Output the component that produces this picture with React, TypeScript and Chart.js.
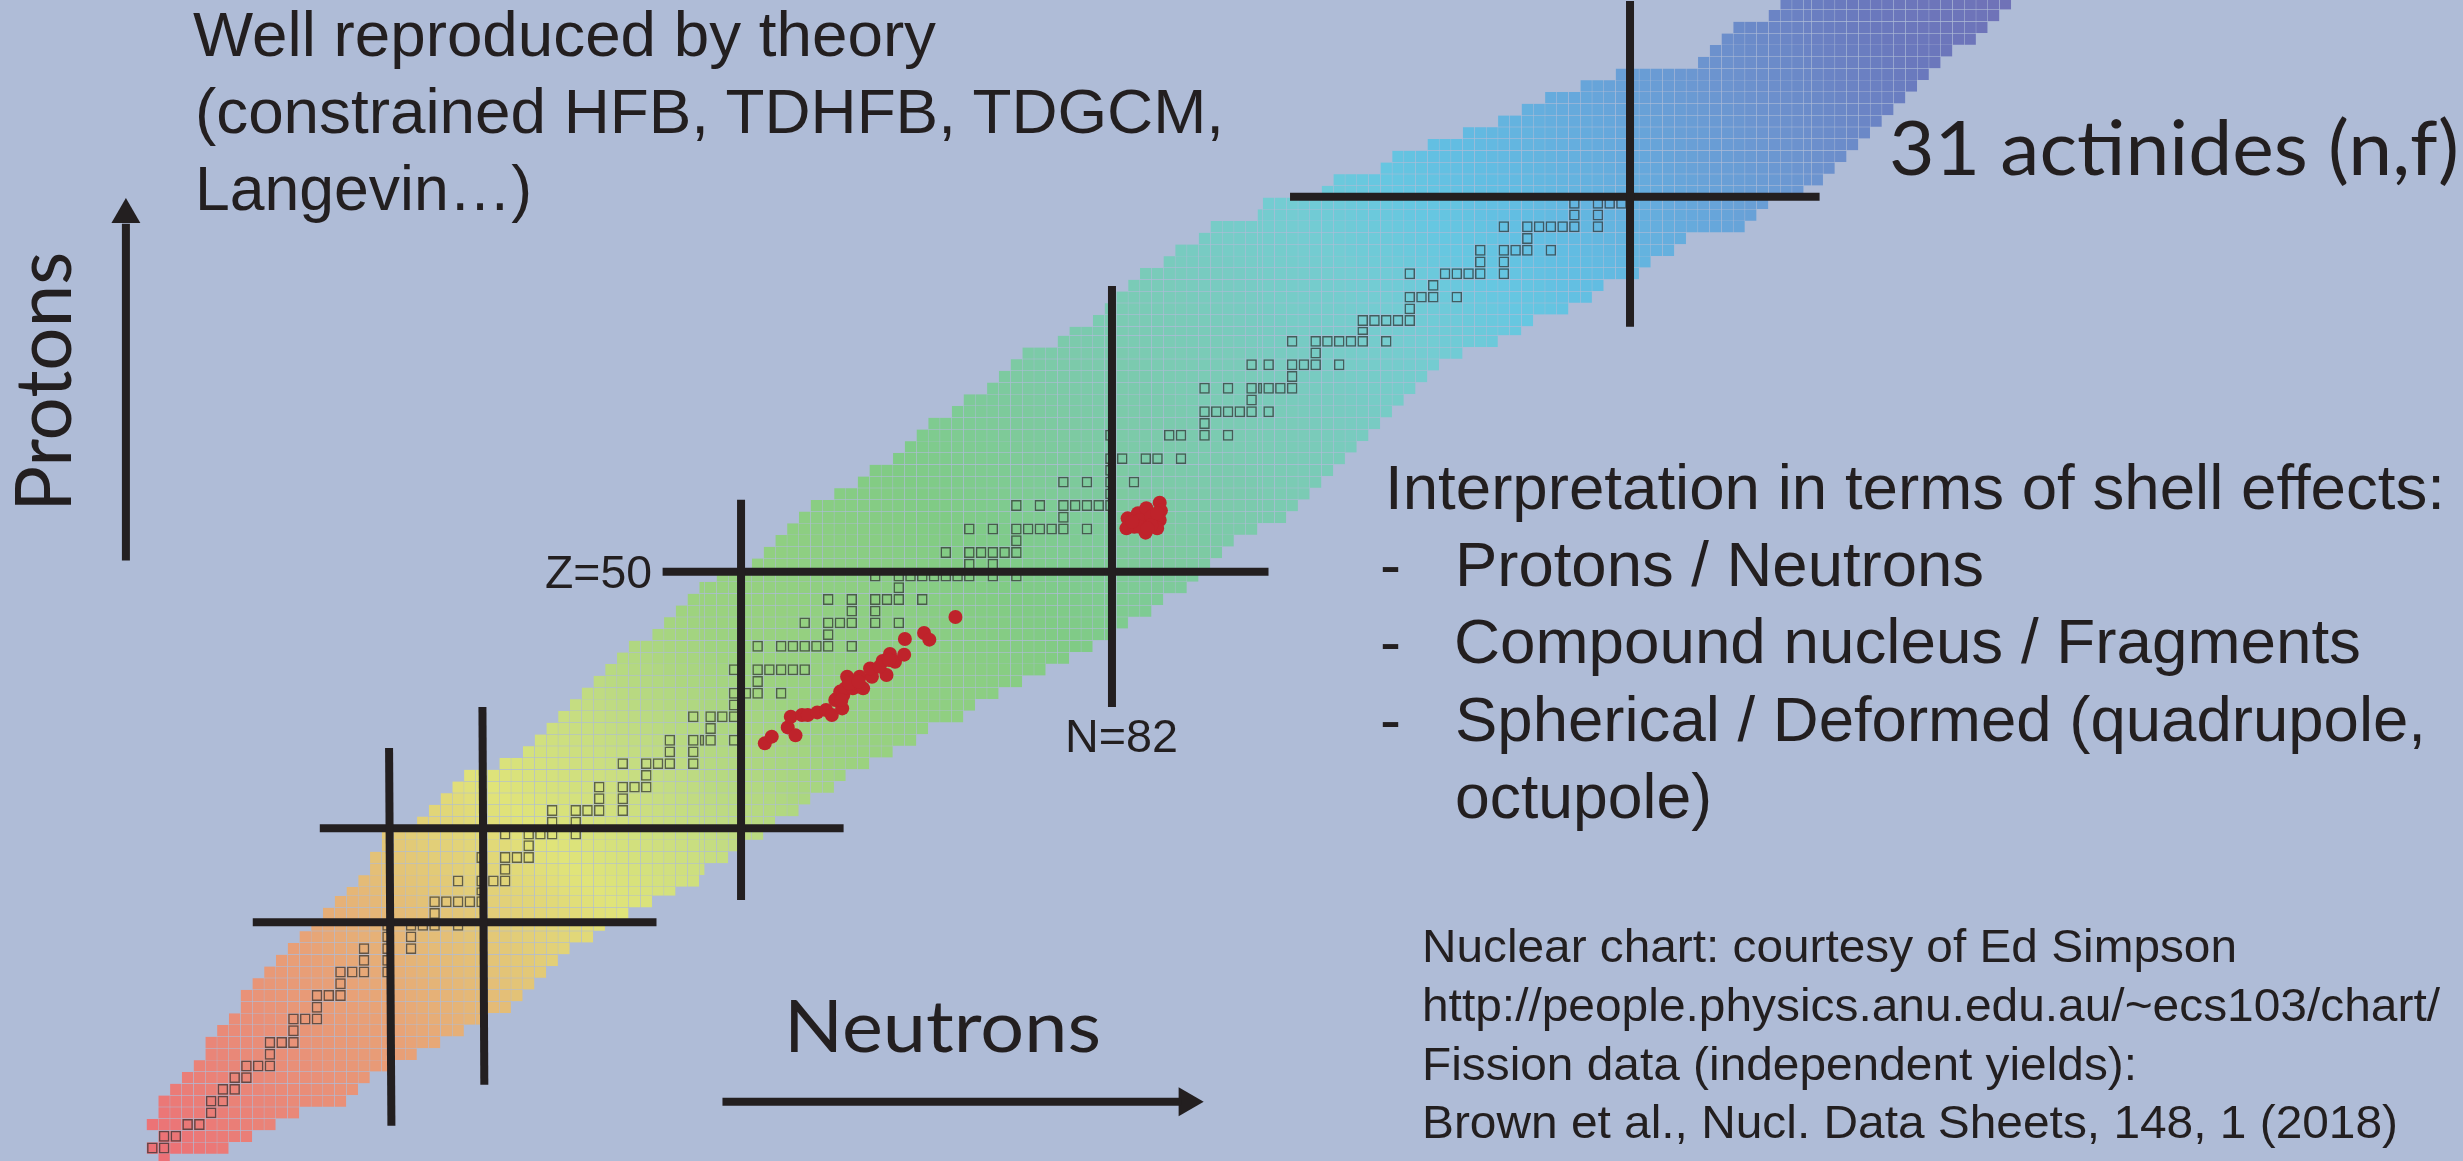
import React, { useEffect, useRef } from "react";
import { Chart, registerables } from "chart.js";

Chart.register(...registerables);

const WIDTH = 2463;
const HEIGHT = 1161;
const BG = "#afbcd7";
const INK = "#231f20";

// Band of the nuclear chart, row by row, first row is -1.
const firstRow = -1;
const leftCol = [1, 0, 1, 0, 1, 1, 2, 3, 4, 5, 5, 6, 7, 8, 8, 9, 10, 11, 12, 13, 14, 15, 16, 17, 18, 19, 19, 20, 20, 23, 24, 25, 26, 27, 30, 32, 33, 34, 35, 36, 37, 38, 39, 40, 41, 43, 44, 45, 46, 47, 49, 52, 53, 54, 55, 56, 57, 59, 61, 62, 64, 65, 66, 67, 69, 70, 72, 73, 74, 75, 78, 79, 81, 82, 83, 84, 85, 87, 88, 90, 91, 95, 96, 101, 102, 106, 107, 110, 113, 116, 118, 120, 123, 126, 133, 134, 135, 136, 139, 140];
const rightCol = [2, 7, 9, 11, 13, 17, 18, 19, 21, 23, 25, 27, 29, 31, 32, 33, 34, 35, 36, 38, 39, 41, 43, 45, 47, 48, 50, 51, 53, 54, 56, 57, 59, 60, 62, 64, 66, 67, 70, 71, 73, 75, 77, 79, 81, 83, 84, 86, 87, 89, 90, 91, 92, 93, 95, 98, 99, 100, 101, 102, 103, 104, 105, 106, 107, 108, 109, 110, 111, 113, 116, 118, 119, 122, 124, 125, 128, 129, 131, 132, 137, 138, 139, 142, 144, 145, 146, 147, 148, 149, 150, 151, 152, 153, 154, 155, 157, 158, 159, 160];

// The picture has narrow columns and rows where its tiles were joined.
const narrowCols = [[47, 0.53], [95, 0.55], [142, 0.35]];
const narrowRows = [[22, 0.23], [70, 0.23]];

// Colour of a cell against mass number (column + row).
const massStops = [0, 15, 30, 45, 60, 75, 93, 122, 144, 160, 178, 189, 198, 212, 226, 244, 258];
const massColours = ["#ec7076", "#e98878", "#e8a177", "#e3c477", "#e0e479", "#c3dc82", "#9cd27f", "#80cb85", "#7ccaa8", "#7acbb9", "#74ccd2", "#66c7e1", "#62bde2", "#66a8dc", "#6c94cf", "#6a78bd", "#7072b7"];

// Stable nuclei: row, then its columns.
const stableRows = [0, 1, 2, 3, 4, 5, 6, 7, 8, 9, 10, 11, 12, 13, 14, 15, 16, 17, 18, 19, 20, 21, 22, 23, 24, 25, 26, 27, 28, 29, 30, 31, 32, 33, 34, 35, 36, 37, 38, 39, 40, 41, 43, 44, 45, 46, 47, 48, 49, 50, 51, 52, 53, 54, 55, 56, 57, 58, 59, 61, 62, 63, 64, 65, 66, 67, 68, 69, 70, 71, 72, 73, 74, 75, 76, 77, 78, 79, 80, 81];
const stableCols = [
  [0, 1], [1, 2], [3, 4], [5], [5, 6], [6, 7], [7, 8], [8, 9, 10], [10], [10, 11, 12], [12], [12, 13, 14], [14], [14, 15, 16], [16],
  [16, 17, 18, 20], [18, 20], [18, 20, 22], [20, 22], [20, 22, 23, 24, 26], [24], [24, 25, 26, 27, 28], [28], [26, 28, 29, 30], [30],
  [28, 30, 31, 32], [32], [30, 32, 33, 34, 36], [34, 36], [34, 36, 37, 38, 40], [38, 40], [38, 40, 41, 42], [42], [40, 42, 43, 44, 46], [44, 46],
  [44, 46, 47, 48, 50], [48], [46, 48, 49, 50], [50], [50, 51, 52, 54], [52], [50, 52, 53, 54, 55, 56],
  [52, 54, 55, 56, 57, 58, 60], [58], [56, 58, 59, 60, 62, 64], [60, 62], [58, 60, 62, 63, 64, 66], [64],
  [62, 64, 65, 66, 67, 68, 69, 70, 72, 74], [70, 72], [68, 70, 71, 72, 73, 74], [74], [70, 72, 74, 75, 76, 77, 78, 80], [78],
  [74, 76, 78, 79, 80, 81, 82], [82], [78, 80, 82, 84], [82], [82, 83, 85, 86, 88], [82, 87, 88, 90, 92], [90],
  [90, 91, 92, 93, 94, 96], [94], [90, 92, 94, 95, 96, 97, 98], [98], [94, 96, 98, 99, 100, 102], [100],
  [98, 100, 101, 102, 103, 104, 106], [104], [104, 105, 106, 107, 108], [108], [108, 109, 110, 112], [110],
  [108, 111, 112, 113, 114, 116], [114, 116], [114, 116, 117, 118, 120], [118], [116, 118, 119, 120, 121, 122, 124], [122, 124], [122, 124, 125, 126],
];

// Fission yields (red points), read on the chart's axes.
const yieldN = [52.58, 53.17, 54.53, 55.19, 54.79, 55.74, 56.23, 57.04, 57.79, 58.28, 59.16, 58.57, 58.76, 58.99, 59.25, 59.42, 60.07, 60.07, 60.94, 59.58, 60.65, 61.69, 61.53, 62.93, 62.6, 63.22, 63.65, 64.43, 64.49, 66.12, 66.57, 68.79, 59.09, 59.74, 60.55, 62.34, 63.16, 83.43, 83.33, 84.31, 85.02, 86.16, 86.26, 86.16, 85.94, 84.96, 84, 85.12, 84.47, 85.45, 84.47, 85.45, 85.12, 85.94, 83.82];
const yieldZ = [35, 35.57, 36.36, 35.68, 37.27, 37.42, 37.42, 37.64, 37.84, 37.42, 37.98, 38.7, 38.84, 39.41, 39.12, 39.69, 39.69, 40.12, 39.69, 40.68, 40.68, 40.68, 41.39, 40.83, 42.02, 42.62, 41.96, 42.56, 43.9, 44.41, 43.84, 45.77, 38.7, 40.12, 40.26, 41.54, 42.1, 54.18, 53.33, 54.61, 55.04, 55.52, 54.84, 54.04, 53.33, 52.96, 53.47, 53.9, 54.04, 54.33, 53.47, 53.62, 53.33, 54.61, 53.9];

// Shell closures: [x start, y start, x end, y end]
const shellLines = [
  [20.63, 34.6, 20.83, 2.4],
  [28.57, 38.1, 28.73, 5.9],
  [50.56, 55.77, 50.56, 21.65],
  [82.1, 73.99, 82.1, 38.1],
  [126.15, 98.29, 126.15, 70.52],
  [9.04, 19.74, 43.37, 19.74],
  [14.74, 27.76, 59.28, 27.76],
  [43.89, 49.63, 95.41, 49.63],
  [97.24, 81.6, 142.27, 81.6],
];

// Axis arrows.
const protonArrow = [[-1.747, 50.59], [-1.747, 79.3]];
const protonHead = [-1.747, 80.07];
const neutronArrow = [[48.98, 4.45], [87.97, 4.45]];
const neutronHead = [88.48, 4.45];

// Scale ranges.
const xRange = [-12.453, 196.98];
const yRange = [-0.605, 98.37];
const ROW_PX = 11.73;

// Texts: string, x, baseline, width.
const sansTexts: [string, number, number, number, number][] = [
  ["Well reproduced by theory", 193, 55.5, 743, 63],
  ["(constrained HFB, TDHFB, TDGCM,", 195, 133, 1029, 63],
  ["Langevin…)", 195, 210, 337, 63],
  ["Z=50", 545, 588, 107, 46],
  ["N=82", 1065, 751.7, 113, 46],
  ["Interpretation in terms of shell effects:", 1385, 509, 1060, 63],
  ["-", 1380, 585.7, 21, 63],
  ["Protons / Neutrons", 1455, 585.7, 529, 63],
  ["-", 1380, 663.3, 21, 63],
  ["Compound nucleus / Fragments", 1454, 663.3, 907, 63],
  ["-", 1380, 740.7, 21, 63],
  ["Spherical / Deformed (quadrupole,", 1455, 740.7, 971, 63],
  ["octupole)", 1455, 817.7, 257, 63],
  ["Nuclear chart: courtesy of Ed Simpson", 1422, 961.7, 815, 46],
  ["http://people.physics.anu.edu.au/~ecs103/chart/", 1422, 1020.7, 1018, 46],
  ["Fission data (independent yields):", 1422, 1080, 715, 46],
  ["Brown et al., Nucl. Data Sheets, 148, 1 (2018)", 1422, 1137.7, 976, 46],
];
const humanistTexts: [string, number, number, number, number][] = [
  ["Neutrons", 784, 1052.3, 317, 72],
  ["31 actinides (n,f)", 1889, 175, 570, 76],
];
const protonsLabel = { text: "Protons", x: 71.4, y: 511.7, length: 260, size: 77 };

const colEdge = (i: number) => narrowCols.reduce((v, [c, cut]) => (i > c ? v - cut : v), i);
const rowEdge = (k: number) => narrowRows.reduce((v, [r, cut]) => (k > r ? v - cut : v), k);

const hex = (s: string) => [1, 3, 5].map((p) => parseInt(s.slice(p, p + 2), 16));
const massColour = (a: number) => {
  let j = 0;
  while (j < massStops.length - 2 && a > massStops[j + 1]) j++;
  const t = Math.min(1, Math.max(0, (a - massStops[j]) / (massStops[j + 1] - massStops[j])));
  const p = hex(massColours[j]);
  const q = hex(massColours[j + 1]);
  return `rgb(${p.map((v, n) => Math.round(v + (q[n] - v) * t)).join(",")})`;
};

const lineSet = (pts: number[][], width: number) => ({
  type: "scatter" as const,
  data: pts.map(([x, y]) => ({ x, y })),
  showLine: true,
  borderColor: INK,
  borderWidth: width,
  borderCapStyle: "butt" as const,
  pointRadius: 0,
  order: 1,
});

const headSet = (p: number[], rotation: number) => ({
  type: "scatter" as const,
  data: [{ x: p[0], y: p[1] }],
  pointStyle: "triangle" as const,
  pointRadius: 16.7,
  pointRotation: rotation,
  pointBackgroundColor: INK,
  pointBorderWidth: 0,
  order: 1,
});

function buildDatasets() {
  const sets: any[] = [];
  leftCol.forEach((left, n) => {
    const k = firstRow + n;
    const data = [];
    for (let i = left; i < rightCol[n]; i++) {
      data.push({ x: [colEdge(i), colEdge(i + 1)], y: (rowEdge(k) + rowEdge(k + 1)) / 2, a: i + k });
    }
    sets.push({
      type: "bar",
      indexAxis: "y",
      data,
      grouped: false,
      barThickness: (rowEdge(k + 1) - rowEdge(k)) * ROW_PX,
      backgroundColor: (c: any) => massColour(c.raw.a),
      borderColor: "transparent",
      borderWidth: 0.18,
      borderSkipped: false,
      inflateAmount: 0,
      order: 6,
    });
  });
  stableRows.forEach((k, n) => {
    sets.push({
      type: "bar",
      indexAxis: "y",
      data: stableCols[n].map((i) => ({ x: [colEdge(i) + 0.05, colEdge(i + 1) - 0.05], y: (rowEdge(k) + rowEdge(k + 1)) / 2 })),
      grouped: false,
      barThickness: (rowEdge(k + 1) - rowEdge(k)) * ROW_PX - 0.8,
      backgroundColor: "transparent",
      borderColor: "rgba(48,50,50,0.72)",
      borderWidth: 1.5,
      borderSkipped: false,
      inflateAmount: 0,
      order: 5,
    });
  });
  sets.push({
    type: "scatter",
    data: yieldN.map((x, i) => ({ x, y: yieldZ[i] })),
    pointRadius: 7,
    pointBackgroundColor: "#bf232b",
    pointBorderWidth: 0,
    order: 3,
  });
  shellLines.forEach(([a, b, c, d]) => sets.push(lineSet([[a, b], [c, d]], 8)));
  sets.push(lineSet(protonArrow, 8), headSet(protonHead, 0));
  sets.push(lineSet(neutronArrow, 8), headSet(neutronHead, 90));
  return sets;
}

export default function App() {
  const ref = useRef<HTMLCanvasElement>(null);
  useEffect(() => {
    const chart = new Chart(ref.current!, {
      type: "bar",
      data: { datasets: buildDatasets() },
      options: {
        animation: false,
        responsive: false,
        devicePixelRatio: 1,
        events: [],
        layout: { padding: 0, autoPadding: false },
        plugins: { legend: { display: false }, tooltip: { enabled: false }, title: { display: false } },
        scales: {
          x: { type: "linear", min: xRange[0], max: xRange[1], display: false, offset: false, grid: { display: false, offset: false } },
          y: { type: "linear", min: yRange[0], max: yRange[1], display: false, offset: false, grid: { display: false, offset: false } },
        },
      },
    } as any);
    return () => chart.destroy();
  }, []);

  const textProps = (width: number) => ({ textLength: width, lengthAdjust: "spacingAndGlyphs" as const, fill: INK });

  return (
    <div style={{ position: "absolute", left: 0, top: 0, width: WIDTH, height: HEIGHT, background: BG, overflow: "hidden" }}>
      <canvas ref={ref} width={WIDTH} height={HEIGHT} style={{ position: "absolute", left: 0, top: 0, display: "block" }} />
      <svg width={WIDTH} height={HEIGHT} style={{ position: "absolute", left: 0, top: 0 }}>
        {sansTexts.map(([t, x, y, w, s], i) => (
          <text key={i} x={x} y={y} fontFamily="'Liberation Sans'" fontSize={s} {...textProps(w)}>{t}</text>
        ))}
        {humanistTexts.map(([t, x, y, w, s], i) => (
          <text key={i} x={x} y={y} fontFamily="Lato" fontSize={s} {...textProps(w)}>{t}</text>
        ))}
        <text
          x={protonsLabel.x}
          y={protonsLabel.y}
          transform={`rotate(-90 ${protonsLabel.x} ${protonsLabel.y})`}
          fontFamily="Lato"
          fontSize={protonsLabel.size}
          {...textProps(protonsLabel.length)}
        >
          {protonsLabel.text}
        </text>
      </svg>
    </div>
  );
}
